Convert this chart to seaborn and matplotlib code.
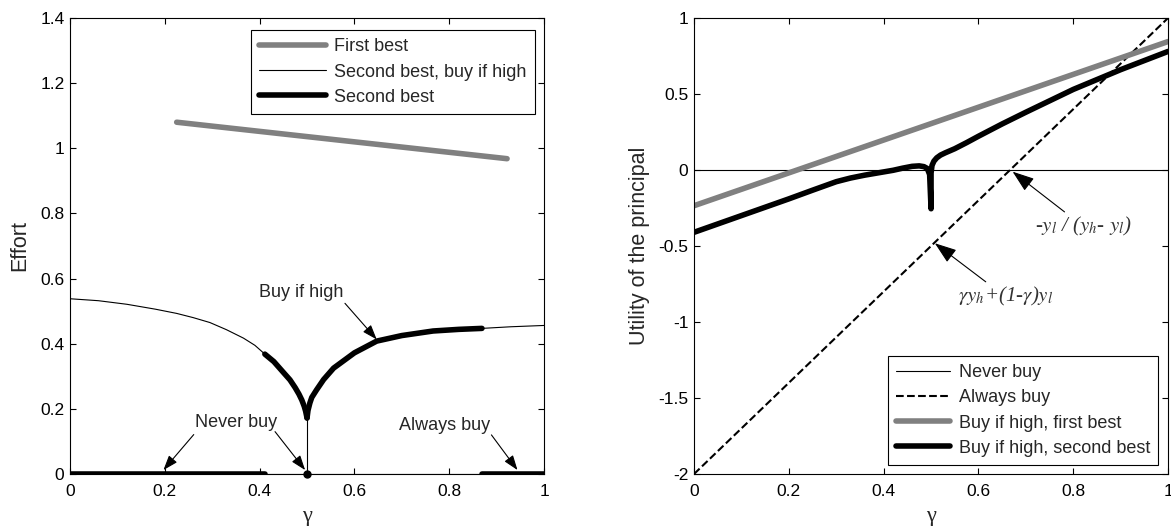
import numpy as np
import seaborn as sns
import matplotlib.pyplot as plt
from matplotlib.lines import Line2D

# ---- left panel: effort ----
gamma_left = [0, 0.06, 0.12, 0.18, 0.225, 0.26, 0.295, 0.33, 0.366, 0.39, 0.411,
              0.43, 0.45, 0.464, 0.475, 0.483, 0.489, 0.494, 0.497, 0.5]
effort_left = [0.538, 0.532, 0.521, 0.506, 0.493, 0.480, 0.465, 0.443, 0.417, 0.395, 0.368,
               0.345, 0.312, 0.289, 0.265, 0.245, 0.227, 0.208, 0.193, 0.172]
gamma_right = [0.5, 0.502, 0.506, 0.51, 0.52, 0.535, 0.556, 0.57, 0.6, 0.647, 0.7, 0.766,
               0.82, 0.869, 0.93, 1.0]
effort_right = [0.172, 0.195, 0.218, 0.235, 0.258, 0.29, 0.325, 0.34, 0.372, 0.408, 0.425,
                0.439, 0.444, 0.447, 0.452, 0.456]
gamma_fb = [0.225, 0.922]
effort_fb = [1.080, 0.968]
never_buy_range = [0, 0.411]
always_buy_range = [0.869, 1.0]
switch_gamma = 0.5

# ---- right panel: utility of the principal ----
gamma_u = [0, 1]
u_never = [0, 0]
u_always = [-2, 1]
u_first_best = [-0.235, 0.845]
gamma_sb = [0, 0.1, 0.2, 0.25, 0.3, 0.33, 0.36, 0.39, 0.42, 0.44, 0.46, 0.475, 0.485, 0.492,
            0.497, 0.5, 0.5, 0.502, 0.506, 0.512, 0.52, 0.53, 0.55, 0.575, 0.6, 0.65, 0.7,
            0.75, 0.8, 0.85, 0.9, 0.95, 1.0]
u_second_best = [-0.41, -0.30, -0.19, -0.133, -0.077, -0.053, -0.034, -0.018, -0.002, 0.012,
                 0.024, 0.027, 0.022, 0.01, -0.03, -0.255, -0.02, 0.03, 0.058, 0.08, 0.098,
                 0.113, 0.14, 0.18, 0.222, 0.303, 0.38, 0.455, 0.53, 0.595, 0.66, 0.72, 0.78]

x_ticks = [0, 0.2, 0.4, 0.6, 0.8, 1]
x_labels = ['0', '0.2', '0.4', '0.6', '0.8', '1']
y_ticks_left = [0, 0.2, 0.4, 0.6, 0.8, 1, 1.2, 1.4]
y_labels_left = ['0', '0.2', '0.4', '0.6', '0.8', '1', '1.2', '1.4']
y_ticks_right = [-2, -1.5, -1, -0.5, 0, 0.5, 1]
y_labels_right = ['-2', '-1.5', '-1', '-0.5', '0', '0.5', '1']

sns.set_style('ticks')
plt.rcParams['font.family'] = ['Liberation Sans', 'DejaVu Sans']
plt.rcParams['mathtext.fontset'] = 'stix'

GRAY = '#808080'
fig = plt.figure(figsize=(11.71, 5.29), dpi=100)
ax1 = fig.add_axes([0.0598, 0.104, 0.4048, 0.862])
ax2 = fig.add_axes([0.5927, 0.104, 0.4048, 0.862])

arrow = dict(arrowstyle='-|>,head_length=0.9,head_width=0.32', lw=0.8, color='k',
             shrinkA=0, shrinkB=0)

# left panel
gl = np.array(gamma_left)
el = np.array(effort_left)
gr = np.array(gamma_right)
er = np.array(effort_right)
cusp = effort_left[-1]

thin = dict(color='k', lw=0.8, sort=False, estimator=None, ax=ax1)
sns.lineplot(x=gamma_left, y=effort_left, **thin)
sns.lineplot(x=gamma_right, y=effort_right, **thin)
sns.lineplot(x=[switch_gamma, switch_gamma], y=[cusp, 0], **thin)
sns.lineplot(x=[0, 1], y=[0, 0], **thin)

thick = dict(color='k', lw=4, sort=False, estimator=None, ax=ax1,
             solid_capstyle='round', solid_joinstyle='round')
sns.lineplot(x=gl[gl >= never_buy_range[1]], y=el[gl >= never_buy_range[1]], **thick)
sns.lineplot(x=gr[gr <= always_buy_range[0]], y=er[gr <= always_buy_range[0]], **thick)
sns.lineplot(x=never_buy_range, y=[0, 0], **thick)
sns.lineplot(x=always_buy_range, y=[0, 0], **thick)
ax1.plot([switch_gamma], [0], 'o', color='k', ms=5, clip_on=False, zorder=5)

sns.lineplot(x=gamma_fb, y=effort_fb, color=GRAY, lw=4, ax=ax1, sort=False, estimator=None)

ax1.text(0.488, 0.557, 'Buy if high', fontsize=13, ha='center', va='center')
ax1.annotate('', xy=(0.647, 0.413), xytext=(0.58, 0.524), arrowprops=arrow)
ax1.text(0.351, 0.157, 'Never buy', fontsize=13, ha='center', va='center')
ax1.annotate('', xy=(0.197, 0.012), xytext=(0.261, 0.121), arrowprops=arrow)
ax1.annotate('', xy=(0.496, 0.012), xytext=(0.4325, 0.130), arrowprops=arrow)
ax1.text(0.79, 0.150, 'Always buy', fontsize=13, ha='center', va='center')
ax1.annotate('', xy=(0.944, 0.012), xytext=(0.889, 0.120), arrowprops=arrow)

ax1.set_xlim(0, 1)
ax1.set_ylim(0, 1.4)
ax1.set_xticks(x_ticks, x_labels)
ax1.set_yticks(y_ticks_left, y_labels_left)
ax1.set_ylabel('Effort', fontsize=15.5, labelpad=7)

h1 = [Line2D([], [], color=GRAY, lw=4),
      Line2D([], [], color='k', lw=0.8),
      Line2D([], [], color='k', lw=4)]
leg1 = ax1.legend(h1, ['First best', 'Second best, buy if high', 'Second best'],
                  loc='upper right', bbox_to_anchor=(0.98, 0.973), borderaxespad=0,
                  fontsize=13, handlelength=3.7, handletextpad=0.45, labelspacing=0.45,
                  fancybox=False, framealpha=1, edgecolor='k', borderpad=0.45)
leg1.get_frame().set_linewidth(0.8)

# right panel
sns.lineplot(x=gamma_u, y=u_never, color='k', lw=0.8, ax=ax2, sort=False, estimator=None)
sns.lineplot(x=gamma_u, y=u_always, color='k', lw=1.5, ax=ax2, sort=False, estimator=None,
             linestyle='--')
sns.lineplot(x=gamma_u, y=u_first_best, color=GRAY, lw=4, ax=ax2, sort=False, estimator=None)
sns.lineplot(x=gamma_sb, y=u_second_best, color='k', lw=4, ax=ax2, sort=False, estimator=None,
             solid_capstyle='round', solid_joinstyle='round')

math_kw = dict(fontsize=15, color='#333333', ha='left', va='center', style='italic',
               family=['Liberation Serif', 'DejaVu Serif'])
ax2.annotate(r'-$y_l$ / ($y_h$- $y_l$)', xy=(0.672, -0.011), xytext=(0.72, -0.373),
             arrowprops=arrow, **math_kw)
ax2.annotate(r'$\gamma y_h$+(1-$\gamma$)$y_l$', xy=(0.508, -0.482),
             xytext=(0.556, -0.833), arrowprops=arrow, **math_kw)

ax2.set_xlim(0, 1)
ax2.set_ylim(-2, 1)
ax2.set_xticks(x_ticks, x_labels)
ax2.set_yticks(y_ticks_right, y_labels_right)
ax2.set_ylabel('Utility of the principal', fontsize=15.5, labelpad=6)

h2 = [Line2D([], [], color='k', lw=0.8),
      Line2D([], [], color='k', lw=1.5, ls='--'),
      Line2D([], [], color=GRAY, lw=4),
      Line2D([], [], color='k', lw=4)]
leg2 = ax2.legend(h2, ['Never buy', 'Always buy', 'Buy if high, first best',
                       'Buy if high, second best'],
                  loc='lower right', bbox_to_anchor=(0.979, 0.02), borderaxespad=0,
                  fontsize=13, handlelength=3.0, handletextpad=0.45, labelspacing=0.45,
                  fancybox=False, framealpha=1, edgecolor='k', borderpad=0.45)
leg2.get_frame().set_linewidth(0.8)

for ax in (ax1, ax2):
    ax.set_xlabel('γ', fontsize=16, family=['Liberation Serif', 'DejaVu Serif'], labelpad=6)
    ax.tick_params(axis='both', direction='in', top=True, right=True, length=4, width=0.8,
                   labelsize=12.5, colors='k')
    ax.tick_params(axis='x', pad=7)
    ax.tick_params(axis='y', pad=4)
    for s in ax.spines.values():
        s.set_linewidth(0.8)
        s.set_color('k')

fig.savefig('out.png', dpi=100)
